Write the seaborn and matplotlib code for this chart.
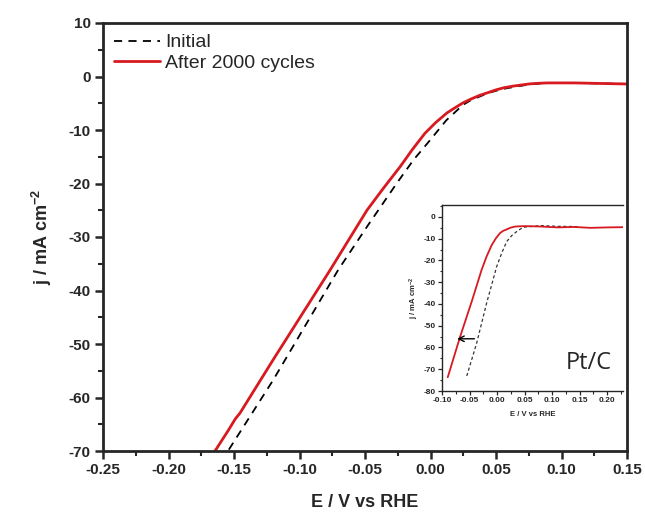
import numpy as np
import pandas as pd
import matplotlib
matplotlib.use("Agg")
import matplotlib.pyplot as plt
from matplotlib.ticker import MultipleLocator, FormatStrFormatter
import seaborn as sns

# ---- main panel data ----
E_after = [-0.170, -0.1645, -0.1545, -0.1490, -0.1454, -0.120, -0.0767, -0.0485, -0.036,
           -0.0233, -0.014, -0.0042, 0.004, 0.0126, 0.019, 0.0250, 0.031, 0.0378, 0.044,
           0.050, 0.056, 0.063, 0.069, 0.075, 0.080, 0.089, 0.110, 0.130, 0.150]
j_after = [-72.0, -70.0, -66.2, -64.0, -62.9, -52.9, -36.2, -25.0, -20.9,
           -16.9, -13.7, -10.6, -8.6, -6.8, -5.8, -4.9, -4.2, -3.5, -3.0,
           -2.5, -2.1, -1.8, -1.6, -1.4, -1.3, -1.2, -1.2, -1.3, -1.4]

E_init = [-0.160, -0.1546, -0.120, -0.0706, -0.048, -0.0256, -0.013, 0.0000, 0.012,
          0.0248, 0.031, 0.0380, 0.044, 0.051, 0.058, 0.065, 0.075, 0.089, 0.110, 0.130, 0.150]
j_init = [-72.0, -70.0, -56.7, -36.2, -27.9, -19.9, -15.6, -11.8, -8.2,
          -5.3, -4.4, -3.7, -3.1, -2.6, -2.2, -1.9, -1.5, -1.2, -1.2, -1.3, -1.4]

# ---- inset (Pt/C) data ----
E_in_after = [-0.0896, -0.067, -0.046, -0.028, -0.019, -0.0096, -0.002, 0.0055, 0.011,
              0.0176, 0.025, 0.033, 0.05, 0.08, 0.11, 0.14, 0.17, 0.20, 0.229]
j_in_after = [-73.7, -55.0, -38.9, -24.3, -18.2, -12.9, -9.8, -7.4, -6.4,
              -5.7, -4.9, -4.4, -4.2, -4.4, -4.8, -4.6, -5.0, -4.8, -4.7]
E_in_init = [-0.055, -0.037, -0.019, -0.0006, 0.009, 0.0176, 0.027, 0.0358, 0.044, 0.051,
             0.08, 0.11, 0.14, 0.15]
j_in_init = [-73.1, -58.0, -39.7, -22.8, -16.3, -11.3, -8.5, -6.7, -5.3, -4.6,
             -4.0, -4.3, -4.4, -4.6]

arrow_y = -56.0
arrow_x = [-0.036, -0.0775]

main_xticks = [-0.25, -0.20, -0.15, -0.10, -0.05, 0.00, 0.05, 0.10, 0.15]
main_yticks = [10, 0, -10, -20, -30, -40, -50, -60, -70]

sns.set_style("ticks")
plt.rcParams['font.family'] = ['Liberation Sans', 'DejaVu Sans']
plt.rcParams['axes.unicode_minus'] = False
plt.rcParams['mathtext.fontset'] = 'custom'
plt.rcParams['mathtext.rm'] = 'Liberation Sans:bold'
plt.rcParams['mathtext.bf'] = 'Liberation Sans:bold'
plt.rcParams['mathtext.default'] = 'bf'

RED = '#d71920'

fig = plt.figure(figsize=(6.45, 5.14), dpi=100)
ax = fig.add_axes([103/645, 63/514, 524/645, 428/514])

df_i = pd.DataFrame({'E': E_init, 'j': j_init})
df_a = pd.DataFrame({'E': E_after, 'j': j_after})
sns.lineplot(data=df_i, x='E', y='j', ax=ax, sort=False, estimator=None,
             color='black', lw=1.3, linestyle=(0, (4.5, 3.5)), label='Initial')
sns.lineplot(data=df_a, x='E', y='j', ax=ax, sort=False, estimator=None,
             color=RED, lw=2.0, label='After 2000 cycles')

ax.set_xlim(-0.25, 0.15)
ax.set_ylim(-70, 10)
ax.set_xticks(main_xticks)
ax.set_yticks(main_yticks)
ax.xaxis.set_major_formatter(FormatStrFormatter('%.2f'))
ax.xaxis.set_minor_locator(MultipleLocator(0.025))
ax.yaxis.set_minor_locator(MultipleLocator(5))
ax.tick_params(which='major', direction='out', length=6, width=1.8,
               labelsize=11, top=False, right=False, pad=3)
ax.tick_params(which='minor', direction='out', length=3.5, width=1.5, top=False, right=False)
for lab in ax.get_xticklabels() + ax.get_yticklabels():
    lab.set_fontweight('bold')
for s in ax.spines.values():
    s.set_linewidth(2.0)
    s.set_visible(True)
ax.set_xlabel('E / V vs RHE', fontsize=13, fontweight='bold', labelpad=12)
ax.set_ylabel(r'j / mA cm$^{-2}$', fontsize=13, fontweight='bold', labelpad=10)

leg = ax.legend(loc='upper left', frameon=False, fontsize=14, handlelength=2.4,
                borderaxespad=0.15, labelspacing=0.15, handletextpad=0.25,
                bbox_to_anchor=(0.0, 1.0))

# ---- inset ----
axi = fig.add_axes([442/645, 123/514, 181/645, 186/514])
df_ii = pd.DataFrame({'E': E_in_init, 'j': j_in_init})
df_ia = pd.DataFrame({'E': E_in_after, 'j': j_in_after})
sns.lineplot(data=df_ii, x='E', y='j', ax=axi, sort=False, estimator=None,
             color='#333333', lw=0.9, linestyle=(0, (2.5, 2.0)), legend=False)
sns.lineplot(data=df_ia, x='E', y='j', ax=axi, sort=False, estimator=None,
             color=RED, lw=1.3, legend=False)
axi.annotate('', xy=(arrow_x[1], arrow_y), xytext=(arrow_x[0], arrow_y),
             arrowprops=dict(arrowstyle='->', color='black', lw=1.0))
axi.set_xlim(-0.10, 0.229)
axi.set_ylim(-80, 5.5)
axi.set_xticks([-0.10, -0.05, 0.00, 0.05, 0.10, 0.15, 0.20])
axi.set_yticks([0, -10, -20, -30, -40, -50, -60, -70, -80])
axi.xaxis.set_major_formatter(FormatStrFormatter('%.2f'))
axi.xaxis.set_minor_locator(MultipleLocator(0.025))
axi.yaxis.set_minor_locator(MultipleLocator(5))
axi.tick_params(which='major', direction='out', length=3, width=0.9,
                labelsize=6, top=False, right=False, pad=1.5)
axi.tick_params(which='minor', direction='out', length=1.8, width=0.8, top=False, right=False)
for lab in axi.get_xticklabels() + axi.get_yticklabels():
    lab.set_fontweight('bold')
for k, s in axi.spines.items():
    s.set_linewidth(1.0)
axi.spines['right'].set_visible(False)
axi.spines['top'].set_visible(True)
axi.set_xlabel('E / V vs RHE', fontsize=5.5, fontweight='bold', labelpad=5)
axi.set_ylabel(r'j / mA cm$^{-2}$', fontsize=5.5, fontweight='bold', labelpad=2)
axi.text(0.81, 0.15, 'Pt/C', transform=axi.transAxes, fontsize=17,
         family=['Open Sans', 'DejaVu Sans'], ha='center', va='center')
axi.patch.set_alpha(0)

fig.savefig('out.png', dpi=100)
